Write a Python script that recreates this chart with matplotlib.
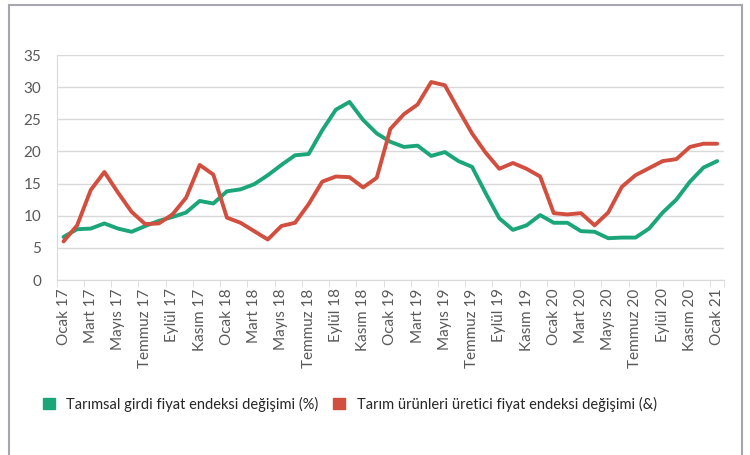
import matplotlib
matplotlib.use("Agg")
import matplotlib.pyplot as plt
from matplotlib.patches import Patch, Rectangle

plt.rcParams['font.family'] = ['Lato', 'DejaVu Sans']

# months Ocak 17 .. Ocak 21 (49 months)
months = ["Ocak", "Şubat", "Mart", "Nisan", "Mayıs", "Haziran",
          "Temmuz", "Ağustos", "Eylül", "Ekim", "Kasım", "Aralık"]
labels = []
for y in range(17, 21):
    for m in months:
        labels.append(f"{m} {y}")
labels.append("Ocak 21")

girdi = [6.7, 7.9, 8.0, 8.8, 8.0, 7.5, 8.4, 9.2, 9.8, 10.5, 12.3, 11.9,
         13.8, 14.1, 14.9, 16.3, 17.9, 19.4, 19.6, 23.3, 26.5, 27.7, 24.9, 22.8,
         21.5, 20.7, 20.9, 19.3, 19.9, 18.5, 17.6, 13.5, 9.6, 7.8, 8.5, 10.1,
         8.9, 8.9, 7.6, 7.5, 6.5, 6.6, 6.6, 8.0, 10.5, 12.5, 15.3, 17.5, 18.5]
uretici = [6.0, 8.5, 14.0, 16.8, 13.6, 10.6, 8.7, 8.8, 10.2, 12.8, 17.9, 16.4,
           9.7, 8.9, 7.6, 6.3, 8.4, 8.9, 11.8, 15.3, 16.1, 16.0, 14.4, 15.9,
           23.5, 25.8, 27.3, 30.8, 30.3, 26.5, 22.8, 19.8, 17.3, 18.2, 17.3, 16.1,
           10.4, 10.2, 10.4, 8.5, 10.5, 14.5, 16.3, 17.4, 18.5, 18.8, 20.7, 21.2, 21.2]

green = "#1BA67A"
red = "#D24E3E"

fig = plt.figure(figsize=(7.5, 4.55), dpi=100)
ax = fig.add_axes([0.0756, 0.3846, 0.8897, 0.4945])

x = list(range(len(labels)))
ax.plot(x, girdi, color=green, lw=2.8, solid_capstyle='round', solid_joinstyle='round')
ax.plot(x, uretici, color=red, lw=2.8, solid_capstyle='round', solid_joinstyle='round')

ax.set_xlim(-0.5, len(labels) - 0.5)
ax.set_ylim(0, 35)
ax.set_yticks(range(0, 36, 5))
ax.yaxis.grid(True, color="#d9d9d9", lw=1)
ax.set_axisbelow(True)

ax.set_xticks(x[::2])
ax.set_xticklabels(labels[::2], rotation=90, fontsize=11, color="#595959")
ax.set_xticks([i - 0.5 for i in x[::2]] + [len(labels) - 0.5], minor=True)
ax.tick_params(axis='x', which='major', length=0, pad=6)
ax.tick_params(axis='x', which='minor', length=5, color="#d9d9d9")
ax.tick_params(axis='y', length=0, labelsize=11, labelcolor="#595959", pad=11)

for s in ['top', 'right']:
    ax.spines[s].set_visible(False)
ax.spines['left'].set_color("#d9d9d9")
ax.spines['bottom'].set_color("#d9d9d9")

handles = [Patch(color=green, label="Tarımsal girdi fiyat endeksi değişimi (%)"),
           Patch(color=red, label="Tarım ürünleri üretici fiyat endeksi değişimi (&)")]
fig.legend(handles=handles, loc='center left', bbox_to_anchor=(0.04, 0.112),
           ncol=2, frameon=False, fontsize=10.5, handlelength=0.8, handleheight=0.8,
           columnspacing=1.0, handletextpad=0.8, labelcolor="#262626")

fig.patches.append(Rectangle((9 / 750, -0.1), 733 / 750, 1.1 - 5 / 455,
                             transform=fig.transFigure, fill=False,
                             edgecolor="#a7a6ae", lw=1.5))

fig.savefig("out.png", dpi=100)
